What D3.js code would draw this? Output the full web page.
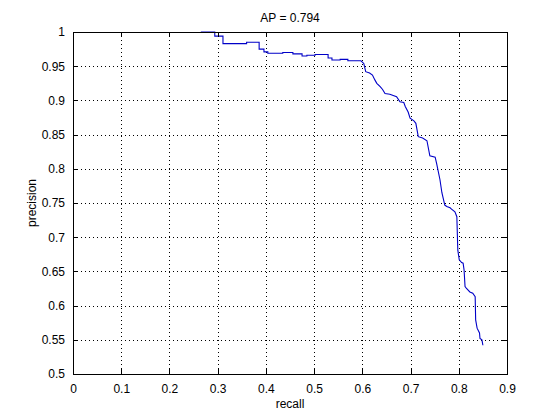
<!DOCTYPE html>
<html>
<head>
<meta charset="utf-8">
<script src="https://cdn.jsdelivr.net/npm/d3@7"></script>
<style>
  body { margin: 0; background: #fff; }
  svg { display: block; font-family: "Liberation Sans", Arial, sans-serif; }
</style>
</head>
<body>
<svg id="chart" width="560" height="420"></svg>
<script>
// precision / recall samples
const recall = [
  0.265, 0.294, 0.294, 0.311, 0.311, 0.360, 0.360, 0.386, 0.386, 0.396,
  0.396, 0.404, 0.404, 0.435, 0.435, 0.456, 0.456, 0.475, 0.475, 0.485,
  0.485, 0.502, 0.502, 0.529, 0.529, 0.537, 0.537, 0.554, 0.554, 0.570,
  0.570, 0.597, 0.603, 0.607, 0.615, 0.621, 0.626, 0.630, 0.637, 0.642,
  0.647, 0.657, 0.671, 0.678, 0.686, 0.689, 0.695, 0.699, 0.707, 0.711,
  0.716, 0.725, 0.734, 0.740, 0.751, 0.754, 0.761, 0.765, 0.771, 0.775,
  0.782, 0.785, 0.792, 0.796, 0.798, 0.801, 0.806, 0.809, 0.811, 0.813,
  0.816, 0.823, 0.829, 0.834, 0.835, 0.838, 0.843, 0.844, 0.848, 0.850
];
const precision = [
  1.000, 1.000, 0.994, 0.994, 0.983, 0.983, 0.985, 0.985, 0.975, 0.975,
  0.971, 0.971, 0.969, 0.969, 0.970, 0.970, 0.968, 0.968, 0.965, 0.965,
  0.966, 0.966, 0.967, 0.967, 0.962, 0.962, 0.959, 0.959, 0.960, 0.960,
  0.958, 0.958, 0.954, 0.942, 0.940, 0.937, 0.930, 0.925, 0.920, 0.916,
  0.910, 0.909, 0.9055, 0.898, 0.897, 0.891, 0.883, 0.874, 0.870, 0.8665,
  0.847, 0.845, 0.841, 0.819, 0.817, 0.808, 0.784, 0.765, 0.747, 0.745,
  0.743, 0.741, 0.737, 0.730, 0.681, 0.667, 0.663, 0.662, 0.652, 0.628,
  0.625, 0.620, 0.618, 0.613, 0.579, 0.567, 0.560, 0.552, 0.550, 0.542
];
const xTicks = [0, 0.1, 0.2, 0.3, 0.4, 0.5, 0.6, 0.7, 0.8, 0.9];
const yTicks = [0.5, 0.55, 0.6, 0.65, 0.7, 0.75, 0.8, 0.85, 0.9, 0.95, 1];
const title = "AP = 0.794";

const svg = d3.select("#chart");
const m = { left: 73, right: 507, top: 32, bottom: 374 };
const fs = 12;

const x = d3.scaleLinear().domain([0, 0.9]).range([m.left, m.right]);
const y = d3.scaleLinear().domain([0.5, 1]).range([m.bottom, m.top]);

// dotted grid
const grid = svg.append("g").attr("stroke", "#000").attr("stroke-width", 1)
    .attr("stroke-dasharray", "1,3").attr("shape-rendering", "crispEdges");
grid.selectAll("line.gx")
  .data(xTicks.filter(d => d > 0 && d < 0.9))
  .enter().append("line")
    .attr("x1", d => x(d) + 0.5).attr("x2", d => x(d) + 0.5)
    .attr("y1", m.top).attr("y2", m.bottom);
grid.selectAll("line.gy")
  .data(yTicks.filter(d => d > 0.5 && d < 1))
  .enter().append("line")
    .attr("y1", d => y(d) + 0.5).attr("y2", d => y(d) + 0.5)
    .attr("x1", m.left).attr("x2", m.right);

// curve
const line = d3.line()
    .x((d, i) => x(recall[i]))
    .y(d => y(d));
svg.append("path")
    .datum(precision)
    .attr("d", line)
    .attr("fill", "none")
    .attr("stroke", "#0000c8")
    .attr("stroke-width", 1.1);

// axes (ticks pointing inward, box on)
const fmt = d => String(d);
const styleAxis = g => {
  g.select(".domain").remove();
  g.selectAll(".tick line").attr("stroke", "#000").attr("shape-rendering", "crispEdges");
  g.selectAll("text").attr("font-size", fs).attr("fill", "#000");
};
svg.append("g").attr("transform", `translate(0,${m.bottom})`)
    .call(d3.axisBottom(x).tickValues(xTicks).tickFormat(fmt).tickSizeInner(-5).tickSizeOuter(0).tickPadding(10))
    .call(styleAxis);
svg.append("g").attr("transform", `translate(0,${m.top})`)
    .call(d3.axisTop(x).tickValues(xTicks).tickFormat("").tickSizeInner(-5).tickSizeOuter(0))
    .call(styleAxis);
svg.append("g").attr("transform", `translate(${m.left},0)`)
    .call(d3.axisLeft(y).tickValues(yTicks).tickFormat(fmt).tickSizeInner(-5).tickSizeOuter(0).tickPadding(8))
    .call(styleAxis);
svg.append("g").attr("transform", `translate(${m.right},0)`)
    .call(d3.axisRight(y).tickValues(yTicks).tickFormat("").tickSizeInner(-5).tickSizeOuter(0))
    .call(styleAxis);

svg.append("rect")
    .attr("x", m.left + 0.5).attr("y", m.top + 0.5)
    .attr("width", m.right - m.left).attr("height", m.bottom - m.top)
    .attr("fill", "none").attr("stroke", "#000").attr("stroke-width", 1)
    .attr("shape-rendering", "crispEdges");

svg.append("text").attr("x", (m.left + m.right) / 2).attr("y", 22)
    .attr("text-anchor", "middle").attr("font-size", fs).text(title);
svg.append("text").attr("x", (m.left + m.right) / 2).attr("y", 408)
    .attr("text-anchor", "middle").attr("font-size", fs).text("recall");
svg.append("text")
    .attr("transform", `translate(36,${(m.top + m.bottom) / 2}) rotate(-90)`)
    .attr("text-anchor", "middle").attr("font-size", fs).text("precision");
</script>
</body>
</html>
